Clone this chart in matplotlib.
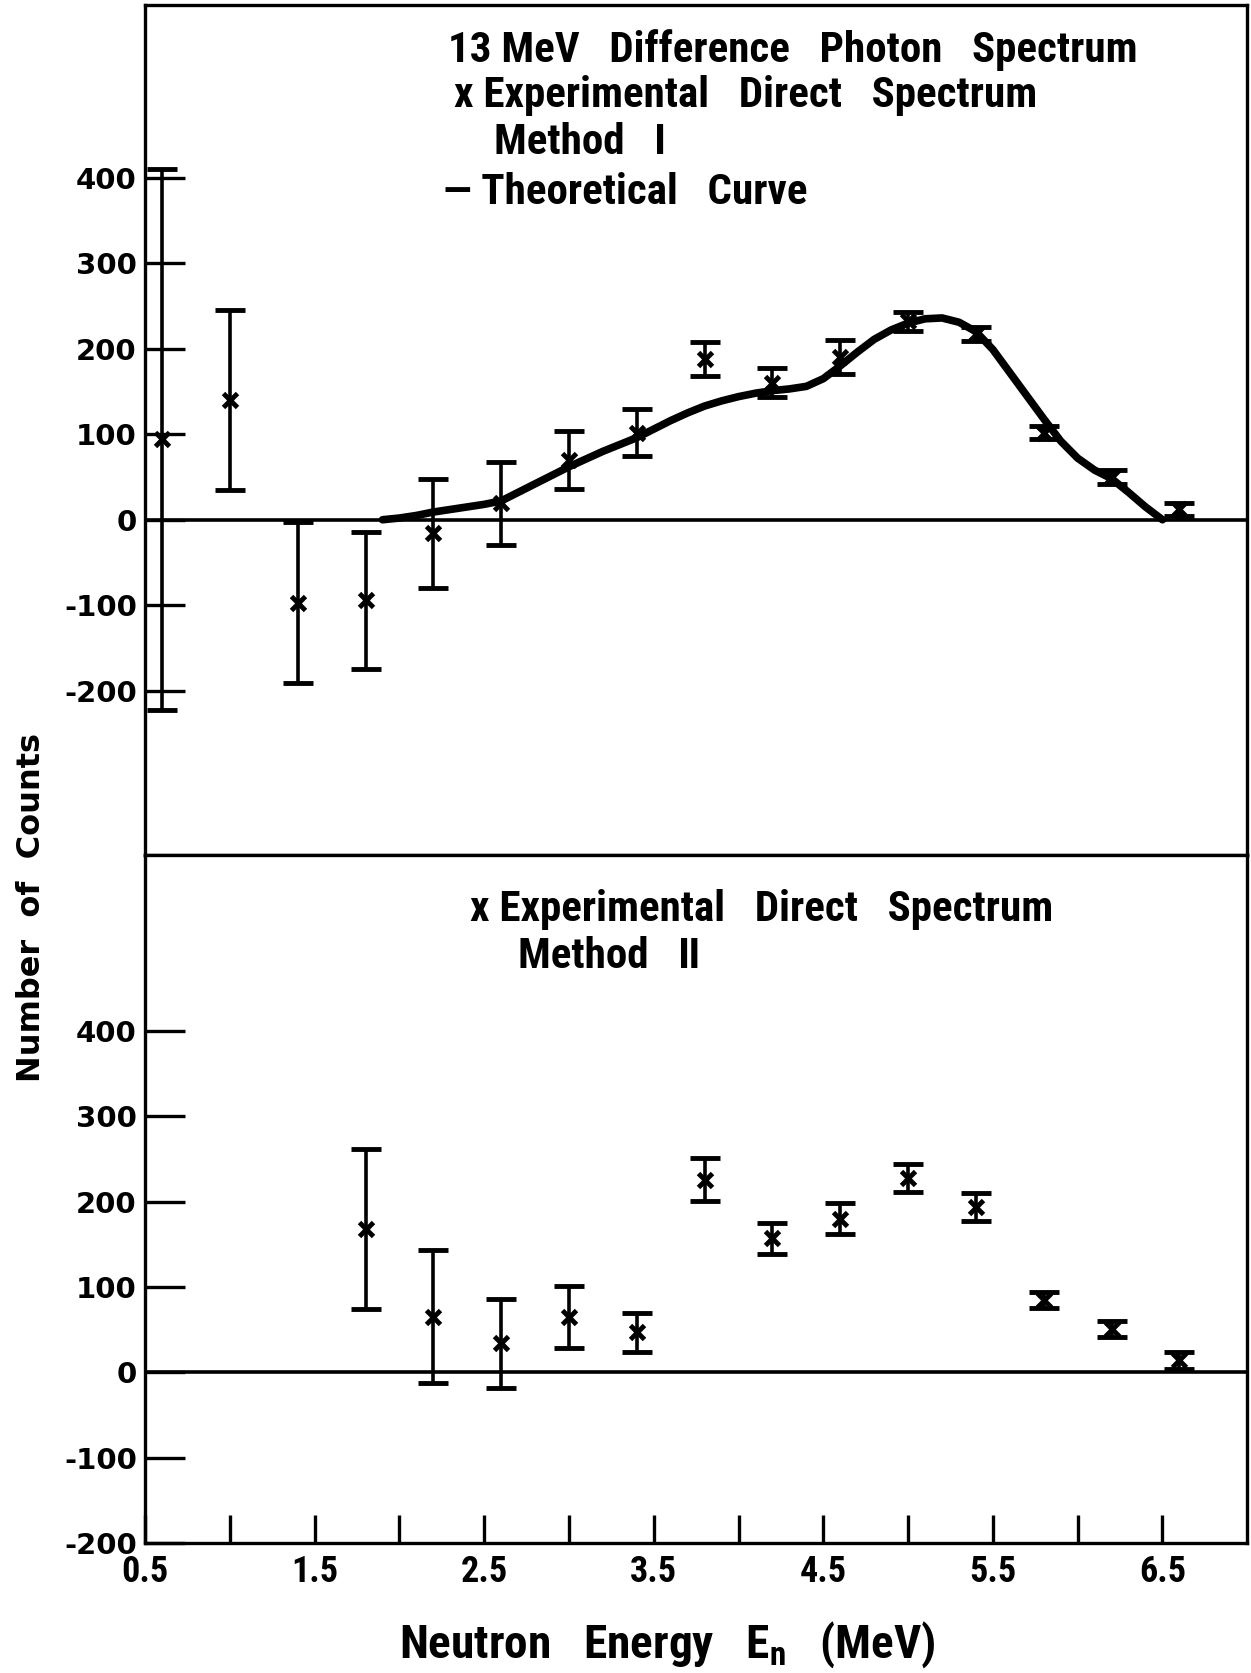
import matplotlib
matplotlib.use('Agg')
import matplotlib.pyplot as plt
from matplotlib import font_manager
from matplotlib.ticker import FixedLocator

# Method I: experimental direct spectrum (top panel)
e1 = [0.6, 1.0, 1.4, 1.8, 2.2, 2.6, 3.0, 3.4, 3.8, 4.2, 4.6, 5.0, 5.4, 5.8, 6.2, 6.6]
n1 = [94, 140, -97, -94, -16, 19, 70, 102, 188, 160, 190, 232, 217, 102, 50, 12]
err1 = [316, 105, 94, 80, 64, 48, 34, 27, 20, 17, 20, 11, 8, 8, 8, 8]

# theoretical curve
e_th = [1.9, 2.0, 2.1, 2.2, 2.3, 2.4, 2.5, 2.6, 2.7, 2.8, 2.9, 3.0, 3.1, 3.2, 3.3,
        3.4, 3.5, 3.6, 3.7, 3.8, 3.9, 4.0, 4.1, 4.2, 4.3, 4.4, 4.5, 4.6, 4.7,
        4.8, 4.9, 5.0, 5.1, 5.2, 5.3, 5.4, 5.5, 5.6, 5.7, 5.8, 5.9, 6.0, 6.1,
        6.2, 6.3, 6.4, 6.5]
n_th = [0, 2, 5, 9, 12, 15, 18, 22, 32, 42, 52, 62, 71, 80, 88,
        96, 106, 116, 125, 133, 139, 144, 148, 151, 153, 156, 165, 180, 196,
        211, 222, 230, 235, 236, 231, 220, 199, 172, 145, 118, 92, 72, 58,
        48, 32, 15, 0]

# Method II: experimental direct spectrum (bottom panel)
e2 = [1.8, 2.2, 2.6, 3.0, 3.4, 3.8, 4.2, 4.6, 5.0, 5.4, 5.8, 6.2, 6.6]
n2 = [168, 65, 34, 65, 47, 226, 157, 180, 228, 194, 85, 51, 14]
err2 = [94, 78, 52, 36, 23, 25, 18, 18, 16, 16, 9, 9, 10]

yticks = [-200, -100, 0, 100, 200, 300, 400]
xticks = [0.5, 1.5, 2.5, 3.5, 4.5, 5.5, 6.5]
xlabels = ['0.5', '1.5', '2.5', '3.5', '4.5', '5.5', '6.5']
xminor = [1.0, 2.0, 3.0, 4.0, 5.0, 6.0]

# look for a narrow font for the lettering, like the hand-lettered original
fonts = font_manager.fontManager.ttflist
names = {f.name for f in fonts}
narrow = None
stretch = 'normal'
for cand in ['Liberation Sans Narrow', 'Roboto Condensed', 'Open Sans Condensed']:
    if cand in names:
        narrow = cand
        break
if narrow is None:
    if any(f.name == 'DejaVu Sans' and 'Condensed' in f.fname for f in fonts):
        narrow = 'DejaVu Sans'
        stretch = 'condensed'
    else:
        narrow = 'Roboto'

plt.rcParams['font.family'] = [narrow, 'DejaVu Sans']
plt.rcParams['font.weight'] = 'bold'
plt.rcParams['font.stretch'] = stretch
plt.rcParams['mathtext.default'] = 'regular'

fig = plt.figure(figsize=(12.51, 16.73), dpi=100)
ax1 = fig.add_axes([0.116, 0.489, 0.881, 0.508])
ax2 = fig.add_axes([0.116, 0.0777, 0.881, 0.411])

ebkw = dict(fmt='x', color='black', ms=10, mew=3.5, elinewidth=2.6,
            capsize=11, capthick=3.5, zorder=4)

for ax in (ax1, ax2):
    ax.axhline(0, color='black', lw=2.6, zorder=2)
    ax.set_xlim(0.5, 7.0)
    for s in ax.spines.values():
        s.set_linewidth(2.4)
    ax.yaxis.set_major_locator(FixedLocator(yticks))
    ax.set_yticklabels([str(v) for v in yticks], family='DejaVu Sans',
                       fontweight='bold', fontsize=21, stretch='normal')
    ax.tick_params(axis='y', direction='in', length=29, width=2.4, pad=6)

ax1.errorbar(e1, n1, yerr=err1, **ebkw)
ax1.plot(e_th, n_th, color='black', lw=5.5, zorder=3, solid_capstyle='round')
ax1.set_ylim(-392, 602)
ax1.set_xticks([])

ax2.errorbar(e2, n2, yerr=err2, **ebkw)
ax2.set_ylim(-200, 606)
ax2.set_xticks(xticks)
ax2.set_xticklabels(xlabels, fontsize=26, fontweight='bold')
ax2.set_xticks(xminor, minor=True)
ax2.tick_params(axis='x', which='both', direction='in', length=20, width=2.4,
                pad=8)

tkw = dict(fontsize=31, fontweight='bold', va='center', ha='left',
           transform=fig.transFigure)
W, H = 1251, 1673
fig.text(448 / W, 1 - 50 / H, '13 MeV   Difference   Photon   Spectrum', **tkw)
fig.text(454 / W, 1 - 95 / H, 'x Experimental   Direct   Spectrum', **tkw)
fig.text(494 / W, 1 - 143 / H, 'Method   \u2160', **tkw)
fig.text(443 / W, 1 - 192 / H, '\u2014 Theoretical   Curve', **tkw)
fig.text(470 / W, 1 - 910 / H, 'x Experimental   Direct   Spectrum', **tkw)
fig.text(518 / W, 1 - 957 / H, 'Method   \u2161', **tkw)

fig.text(32 / W, 1 - 907 / H, 'Number  of  Counts', rotation=90,
         ha='center', va='center', fontsize=23, fontweight='bold',
         family='DejaVu Sans', stretch='normal')
fig.text(667 / W, 1 - 1645 / H, 'Neutron   Energy   E$_{n}$   (MeV)',
         ha='center', va='center', fontsize=34, fontweight='bold')

fig.savefig('out.png', dpi=100)
